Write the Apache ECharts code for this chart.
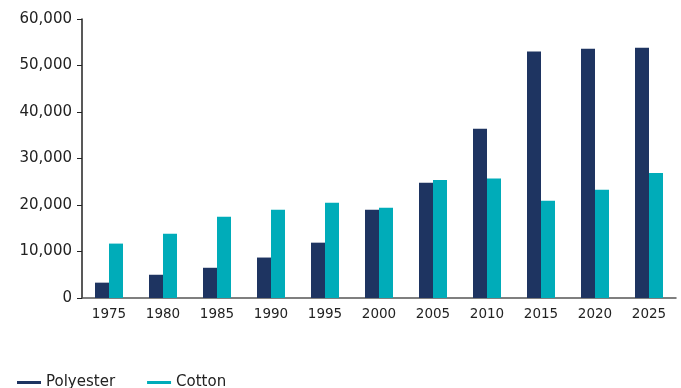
<!DOCTYPE html>
<html>
<head>
<meta charset="utf-8">
<script src="https://cdn.jsdelivr.net/npm/echarts@6/dist/echarts.min.js"></script>
<style>
  html, body { margin: 0; padding: 0; background: #fff; }
</style>
</head>
<body>
<div id="chart" style="width: 681px; height: 388px;"></div>
<script>
const years = ['1975', '1980', '1985', '1990', '1995', '2000', '2005', '2010', '2015', '2020', '2025']
const polyester = [3300, 5000, 6500, 8700, 11900, 19000, 24800, 36400, 53000, 53600, 53800]
const cotton = [11700, 13800, 17500, 19000, 20500, 19400, 25400, 25700, 20900, 23300, 26900]

const myecharts = echarts.init(document.getElementById('chart'))
const option = {
  animation: false,
  textStyle: { fontFamily: '"DejaVu Sans", sans-serif' },
  legend: {
    left: 12,
    top: 370,
    icon: 'rect',
    itemWidth: 24,
    itemHeight: 3,
    itemGap: 32,
    textStyle: { fontSize: 15, color: '#222' },
    data: ['Polyester', 'Cotton']
  },
  grid: {
    left: 82,
    right: 5,
    top: 19,
    bottom: 90
  },
  xAxis: {
    type: 'category',
    data: years,
    axisLine: { lineStyle: { color: '#555', width: 1.5 } },
    axisTick: { show: false },
    axisLabel: { color: '#222', fontSize: 13.5, margin: 9 }
  },
  yAxis: {
    type: 'value',
    min: 0,
    max: 60000,
    interval: 10000,
    splitLine: { show: false },
    axisLine: { show: true, lineStyle: { color: '#222', width: 1.5 } },
    axisTick: { show: true, length: 5, lineStyle: { color: '#222' } },
    axisLabel: {
      color: '#222',
      fontSize: 15,
      margin: 10,
      formatter: v => v.toLocaleString('en-US')
    }
  },
  series: [{
    name: 'Polyester',
    type: 'bar',
    data: polyester,
    barWidth: 14,
    barGap: 0,
    itemStyle: { color: '#1e3461' }
  }, {
    name: 'Cotton',
    type: 'bar',
    data: cotton,
    barWidth: 14,
    itemStyle: { color: '#00acb9' }
  }]
}
myecharts.setOption(option)
</script>
</body>
</html>
